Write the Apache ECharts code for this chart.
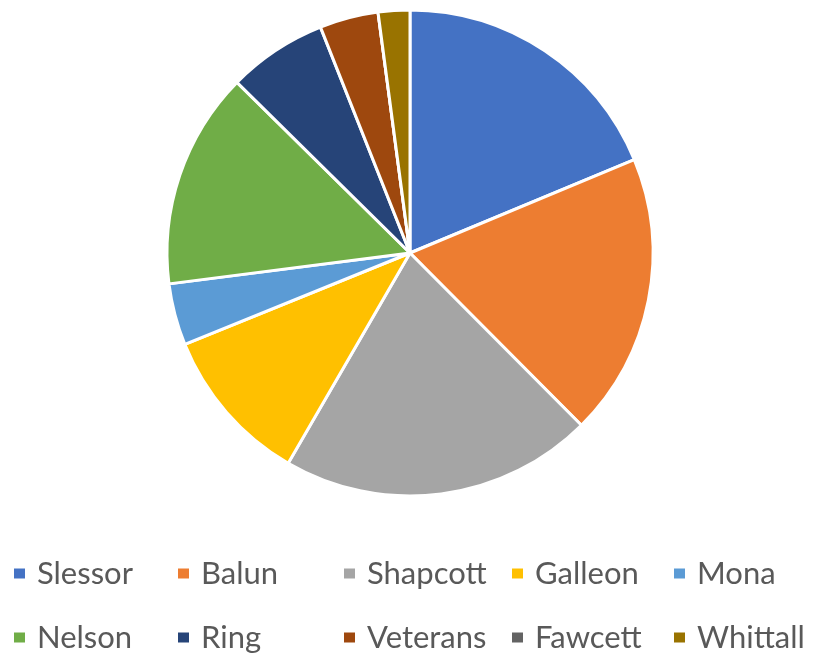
<!DOCTYPE html>
<html><head><meta charset="utf-8">
<script src="https://cdn.jsdelivr.net/npm/echarts@6/dist/echarts.min.js"></script>
<style>html,body{margin:0;padding:0;background:#fff}#c{width:813px;height:655px}</style>
</head><body><div id="c"></div>
<script>
const categories = ['Slessor','Balun','Shapcott','Galleon','Mona','Nelson','Ring','Veterans','Fawcett','Whittall'];
const values = [18.7, 18.8, 20.8, 10.5, 4.1, 14.4, 6.6, 3.9, 0, 2.1];
const colors = ['#4472C4','#ED7D31','#A5A5A5','#FFC000','#5B9BD5','#70AD47','#264478','#9E480E','#636363','#997300'];

const legendCols = [12, 176, 342, 510, 672];
const legends = legendCols.map((x, i) => ({
  orient: 'vertical',
  left: x,
  top: 558,
  height: 97,
  padding: 0,
  itemWidth: 13,
  itemHeight: 12,
  itemGap: 33,
  icon: 'rect',
  selectedMode: false,
  data: [categories[i], categories[i + 5]],
  textStyle: { fontFamily: 'Lato', fontSize: 31, color: '#595959', lineHeight: 30, padding: [0, 0, 0, 6] }
}));

const chart = echarts.init(document.getElementById('c'));
chart.setOption({
  animation: false,
  color: colors,
  legend: legends,
  series: [{
    type: 'pie',
    center: [410, 253],
    radius: 243,
    startAngle: 90,
    clockwise: true,
    label: { show: false },
    labelLine: { show: false },
    emphasis: { disabled: true },
    itemStyle: { borderColor: '#fff', borderWidth: 3 },
    data: categories.map((n, i) => ({ name: n, value: values[i] }))
  }]
});
</script></body></html>
